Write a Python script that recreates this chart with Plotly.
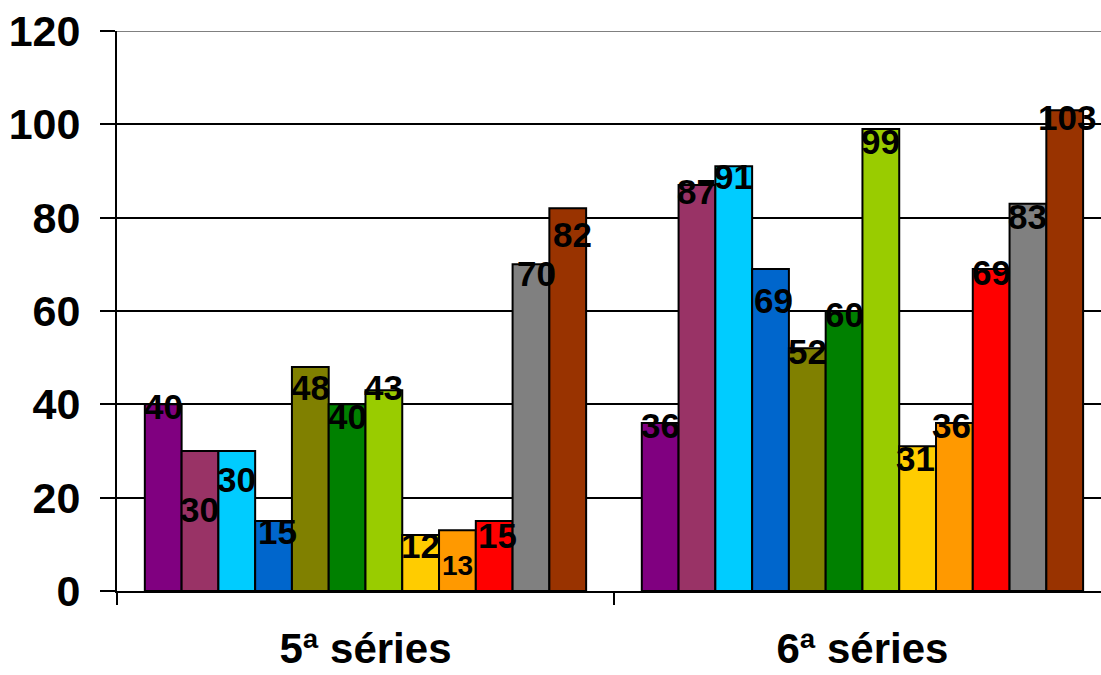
import plotly.graph_objects as go

# Categories and per-series values
categories = ["5ª séries", "6ª séries"]
series_names = ["S1", "S2", "S3", "S4", "S5", "S6", "S7", "S8", "S9", "S10", "S11", "S12"]
values_5 = [40, 30, 30, 15, 48, 40, 43, 12, 13, 15, 70, 82]
values_6 = [36, 87, 91, 69, 52, 60, 99, 31, 36, 69, 83, 103]
y_ticks = [0, 20, 40, 60, 80, 100, 120]

# Styling
colors = ["#800080", "#993366", "#00CCFF", "#0066CC", "#808000", "#008000",
          "#99CC00", "#FFCC00", "#FF9900", "#FF0000", "#808080", "#993300"]
# label nudges (px): positive dy moves the label down from the bar top
label_dy = [[2, 58, 28, 10, 20, 12, -3, 10, 35, 14, 9, 26],
            [2, 6, 10, 31, 3, 3, 12, 12, 2, 3, 13, 7]]
label_dx = [[0, 0, 0, 4, 0, 0, 0, 0, 0, 3, 6, 5],
            [0, 0, 0, 3, 0, 0, 0, -2, -3, 0, 0, 2]]
label_size = [[35, 35, 35, 35, 35, 35, 35, 35, 28, 35, 35, 35],
              [35] * 12]

FONT = "Liberation Sans, Arial, sans-serif"
BARGAP = 0.112
n = len(series_names)

fig = go.Figure()
for i, name in enumerate(series_names):
    fig.add_trace(go.Bar(
        x=categories,
        y=[values_5[i], values_6[i]],
        name=name,
        marker=dict(color=colors[i], line=dict(color="black", width=2)),
        showlegend=False,
        hoverinfo="skip",
    ))

# value labels placed at each bar's top via the axis scales
annotations = []
for c, vals in enumerate([values_5, values_6]):
    for i, v in enumerate(vals):
        xpos = c + (i - (n - 1) / 2) * (1 - BARGAP) / n
        annotations.append(dict(
            x=xpos, y=v, xref="x", yref="y",
            text=str(v), showarrow=False,
            xanchor="center", yanchor="middle",
            xshift=label_dx[c][i], yshift=-label_dy[c][i],
            font=dict(family=FONT, size=label_size[c][i], color="black", weight=700),
        ))

fig.update_layout(
    width=1101, height=675,
    margin=dict(l=117, r=0, t=31, b=84),
    paper_bgcolor="white", plot_bgcolor="white",
    barmode="group", bargap=BARGAP, bargroupgap=0,
    annotations=annotations,
    shapes=[dict(type="line", xref="paper", yref="y", x0=0, x1=1, y0=120, y1=120,
                 line=dict(color="#808080", width=2), layer="above")],
)

fig.update_xaxes(
    type="category", range=[-0.5, 1.48], automargin=False,
    showline=True, linecolor="black", linewidth=2,
    ticks="outside", tickson="boundaries", ticklen=12, tickwidth=2, tickcolor="black",
    showgrid=False,
    tickfont=dict(family=FONT, size=42, color="black", weight=700),
    ticklabelstandoff=20,
)
fig.update_yaxes(
    range=[0, 120], tickvals=y_ticks, automargin=False,
    showline=True, linecolor="black", linewidth=2,
    ticks="outside", ticklen=15, tickwidth=2, tickcolor="black",
    showgrid=True, gridcolor="black", gridwidth=2,
    zeroline=False,
    tickfont=dict(family=FONT, size=43, color="black", weight=700),
    ticklabelstandoff=11,
)

fig.write_html("out.html")
